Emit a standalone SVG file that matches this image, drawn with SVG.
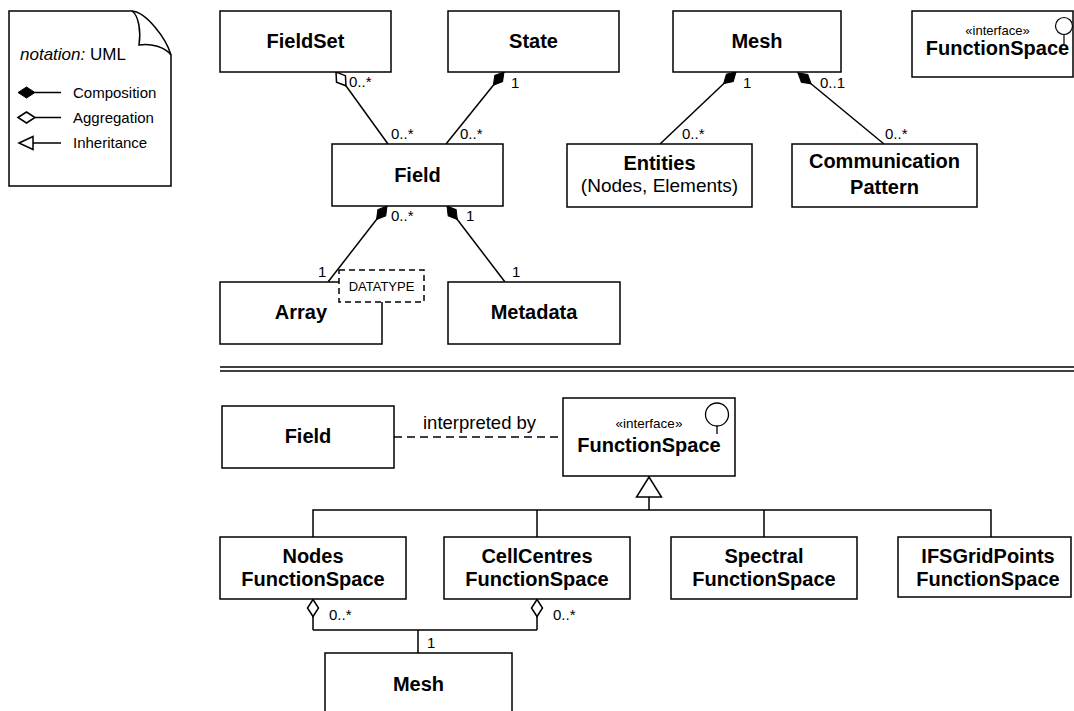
<svg xmlns="http://www.w3.org/2000/svg" width="1074" height="711" viewBox="0 0 1074 711">
<defs>
<style>
.box{fill:#fff;stroke:#000;stroke-width:1.5}
.ln{fill:none;stroke:#000;stroke-width:1.5}
.nm{font-family:"Liberation Sans",Arial,sans-serif;font-weight:bold;font-size:20px;text-anchor:middle;fill:#000}
.rg{font-family:"Liberation Sans",Arial,sans-serif;font-size:19px;text-anchor:middle;fill:#000}
.st{font-family:"Liberation Sans",Arial,sans-serif;font-size:13px;text-anchor:middle;fill:#000}
.ml{font-family:"Liberation Sans",Arial,sans-serif;font-size:15px;fill:#000}
.lg{font-family:"Liberation Sans",Arial,sans-serif;font-size:15px;fill:#000}
</style>
<marker id="comp" markerUnits="userSpaceOnUse" orient="auto" overflow="visible" markerWidth="1" markerHeight="1" refX="0" refY="0">
<path d="M0,0 L-8.5,-5 L-17,0 L-8.5,5 Z" fill="#000" stroke="#000" stroke-width="1"/>
</marker>
<marker id="aggr" markerUnits="userSpaceOnUse" orient="auto" overflow="visible" markerWidth="1" markerHeight="1" refX="0" refY="0">
<path d="M0,0 L-8.5,-5.5 L-17,0 L-8.5,5.5 Z" fill="#fff" stroke="#000" stroke-width="1.5"/>
</marker>
<marker id="inh" markerUnits="userSpaceOnUse" orient="auto" overflow="visible" markerWidth="1" markerHeight="1" refX="0" refY="0">
<path d="M0,0 L-20,-12.5 L-20,12.5 Z" fill="#fff" stroke="#000" stroke-width="1.5"/>
</marker>
</defs>
<rect x="0" y="0" width="1074" height="711" fill="#fff"/>

<g id="legend">
<path class="ln" d="M9,11 H132 C146,12 166,38 171,55 V186 H9 Z"/>
<path class="ln" d="M132,11 C139,16 141,32 139,45 C151,43 165,47 171,55"/>
<text x="20" y="60" font-family="Liberation Sans, Arial, sans-serif" font-size="17"><tspan font-style="italic">notation:</tspan> UML</text>
<path d="M18,92.5 L26.5,87 L35,92.5 L26.5,98 Z" fill="#000" stroke="#000" stroke-width="1"/>
<line class="ln" x1="35" y1="92.5" x2="61" y2="92.5"/>
<text class="lg" x="73" y="98">Composition</text>
<path d="M18,117.5 L26.5,112 L35,117.5 L26.5,123 Z" fill="#fff" stroke="#000" stroke-width="1.5"/>
<line class="ln" x1="35" y1="117.5" x2="61" y2="117.5"/>
<text class="lg" x="73" y="123">Aggregation</text>
<path d="M19,143 L33,136.5 L33,149.5 Z" fill="#fff" stroke="#000" stroke-width="1.5"/>
<line class="ln" x1="33" y1="143" x2="61" y2="143"/>
<text class="lg" x="73" y="148">Inheritance</text>
</g>

<g id="connectors">
<line class="ln" x1="388" y1="144" x2="336" y2="72" marker-end="url(#aggr)"/>
<line class="ln" x1="446" y1="144" x2="504" y2="72" marker-end="url(#comp)"/>
<line class="ln" x1="660" y1="144" x2="736" y2="72" marker-end="url(#comp)"/>
<line class="ln" x1="884" y1="144" x2="798" y2="73" marker-end="url(#comp)"/>
<line class="ln" x1="328" y1="282" x2="387" y2="206" marker-end="url(#comp)"/>
<line class="ln" x1="505" y1="282" x2="447" y2="206" marker-end="url(#comp)"/>
<line class="ln" x1="394" y1="437" x2="563" y2="437" stroke-dasharray="8,5"/>
<path class="ln" d="M313,537 V510 H991 V537 M537,510 V537 M764,510 V537"/>
<line class="ln" x1="649" y1="510" x2="649" y2="477" marker-end="url(#inh)"/>
<line class="ln" x1="313" y1="630" x2="313" y2="599.5" marker-end="url(#aggr)"/>
<line class="ln" x1="537" y1="630" x2="537" y2="599.5" marker-end="url(#aggr)"/>
<path class="ln" d="M313,630 H537 M418,630 V653"/>
<text class="ml" x="349" y="87">0..*</text>
<text class="ml" x="391" y="139">0..*</text>
<text class="ml" x="511" y="88">1</text>
<text class="ml" x="460" y="139">0..*</text>
<text class="ml" x="743" y="88">1</text>
<text class="ml" x="682" y="139">0..*</text>
<text class="ml" x="820" y="88">0..1</text>
<text class="ml" x="885" y="139">0..*</text>
<text class="ml" x="391" y="221">0..*</text>
<text class="ml" x="466" y="221">1</text>
<text class="ml" x="318" y="277">1</text>
<text class="ml" x="512" y="277">1</text>
<text x="423" y="429" font-family="Liberation Sans, Arial, sans-serif" font-size="18.5">interpreted by</text>
<text class="ml" x="329" y="620">0..*</text>
<text class="ml" x="553" y="620">0..*</text>
<text class="ml" x="427" y="648">1</text>
</g>

<g id="separator">
<line x1="220" y1="367" x2="1074" y2="367" stroke="#000" stroke-width="1.5"/>
<line x1="220" y1="371" x2="1074" y2="371" stroke="#000" stroke-width="1.5"/>
</g>

<g id="fieldset"><rect class="box" x="220" y="11" width="171" height="61"/><text class="nm" x="305.5" y="48">FieldSet</text></g>
<g id="state"><rect class="box" x="448" y="11" width="171" height="61"/><text class="nm" x="533.5" y="48">State</text></g>
<g id="mesh-top"><rect class="box" x="673" y="11" width="168" height="61"/><text class="nm" x="757" y="48">Mesh</text></g>
<g id="functionspace-top">
<rect class="box" x="912" y="11" width="161" height="66"/>
<text class="st" x="997.5" y="35">«interface»</text>
<text class="nm" x="997.5" y="55">FunctionSpace</text>
<circle cx="1064" cy="26" r="8.5" fill="#fff" stroke="#000" stroke-width="1.2"/>
<line x1="1064" y1="34.5" x2="1064" y2="44" stroke="#000" stroke-width="1.2"/>
</g>
<g id="field-top"><rect class="box" x="332" y="144" width="171" height="62"/><text class="nm" x="417.5" y="182">Field</text></g>
<g id="entities"><rect class="box" x="567" y="144" width="185" height="63"/><text class="nm" x="659.5" y="170">Entities</text><text class="rg" x="659.5" y="192">(Nodes, Elements)</text></g>
<g id="communication"><rect class="box" x="792" y="144" width="185" height="63"/><text class="nm" x="884.5" y="168">Communication</text><text class="nm" x="884.5" y="194">Pattern</text></g>
<g id="array">
<path class="box" d="M339,282 H220 V344 H382 V302"/>
<rect x="339" y="270" width="85" height="32" fill="#fff" stroke="#000" stroke-width="1.5" stroke-dasharray="6,4"/>
<text class="st" x="381.5" y="291">DATATYPE</text>
<text class="nm" x="301" y="319">Array</text>
</g>
<g id="metadata"><rect class="box" x="448" y="282" width="172" height="62"/><text class="nm" x="534" y="319">Metadata</text></g>

<g id="field-bottom"><rect class="box" x="222" y="406" width="172" height="62"/><text class="nm" x="308" y="443">Field</text></g>
<g id="functionspace">
<rect class="box" x="563" y="398" width="172" height="78"/>
<text x="649" y="428" font-family="Liberation Sans, Arial, sans-serif" font-size="13.5" text-anchor="middle">«interface»</text>
<text class="nm" x="649" y="452">FunctionSpace</text>
<circle cx="717" cy="414.5" r="11.5" fill="#fff" stroke="#000" stroke-width="1.3"/>
<line x1="717" y1="426" x2="717" y2="434" stroke="#000" stroke-width="1.3"/>
</g>
<g id="nodes-fs"><rect class="box" x="220" y="537" width="186" height="62"/><text class="nm" x="313" y="563">Nodes</text><text class="nm" x="313" y="586">FunctionSpace</text></g>
<g id="cellcentres-fs"><rect class="box" x="444" y="537" width="186" height="62"/><text class="nm" x="537" y="563">CellCentres</text><text class="nm" x="537" y="586">FunctionSpace</text></g>
<g id="spectral-fs"><rect class="box" x="671" y="537" width="186" height="62"/><text class="nm" x="764" y="563">Spectral</text><text class="nm" x="764" y="586">FunctionSpace</text></g>
<g id="ifsgridpoints-fs"><rect class="box" x="898" y="537" width="173" height="60"/><text class="nm" x="988" y="563">IFSGridPoints</text><text class="nm" x="988" y="586">FunctionSpace</text></g>
<g id="mesh-bottom"><rect class="box" x="325" y="653" width="187" height="62"/><text class="nm" x="418.5" y="691">Mesh</text></g>
</svg>
